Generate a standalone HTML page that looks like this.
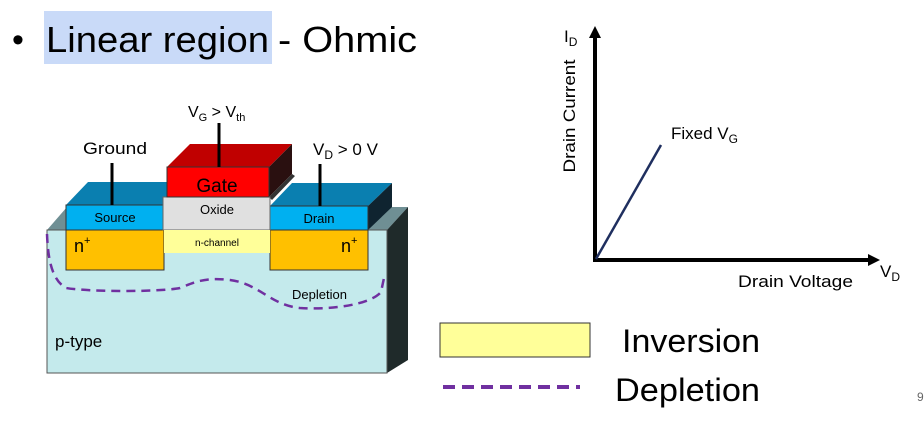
<!DOCTYPE html>
<html><head><meta charset="utf-8"><style>
body{margin:0;width:924px;height:416px;background:#fff;overflow:hidden;font-family:"Liberation Sans",Arial,sans-serif}
</style></head><body>
<svg width="924" height="416" xmlns="http://www.w3.org/2000/svg" font-family="Liberation Sans, Arial, sans-serif">
<rect x="44" y="11" width="228" height="53" fill="#c9daf8"/>
<text x="12" y="51" font-size="34" fill="#000">•</text>
<text x="46" y="52" font-size="36" fill="#000" textLength="223" lengthAdjust="spacingAndGlyphs">Linear region</text>
<text x="278" y="52" font-size="36" fill="#000" textLength="139" lengthAdjust="spacingAndGlyphs">- Ohmic</text>

<!-- substrate -->
<polygon points="47,230 67,207 408,207 387,230" fill="#6f8f94"/>
<polygon points="387,230 408,207 408,360 387,373" fill="#1f2a2a"/>
<rect x="47" y="230" width="340" height="143" fill="#c4eaec" stroke="#555" stroke-width="1"/>
<!-- source -->
<polygon points="66,205 88,182 175,182 164,205" fill="#0a7fb0"/>
<rect x="66" y="205" width="98" height="25" fill="#00b0f0" stroke="#333" stroke-width="1"/>
<text x="115" y="222" font-size="13" text-anchor="middle">Source</text>
<rect x="66" y="230" width="98" height="40" fill="#ffc000" stroke="#333" stroke-width="1"/>
<text x="74" y="252" font-size="18">n<tspan font-size="11" dy="-8">+</tspan></text>
<!-- drain -->
<polygon points="270,206 292,183 392,183 368,206" fill="#0a7fb0"/>
<polygon points="368,206 392,183 392,207 368,230" fill="#0f2430"/>
<rect x="270" y="206" width="98" height="24" fill="#00b0f0" stroke="#333" stroke-width="1"/>
<text x="319" y="223" font-size="13" text-anchor="middle">Drain</text>
<rect x="270" y="230" width="98" height="40" fill="#ffc000" stroke="#333" stroke-width="1"/>
<text x="341" y="252" font-size="18">n<tspan font-size="11" dy="-8">+</tspan></text>
<!-- oxide / channel -->
<polygon points="269,197 292,174 295,176 272,200" fill="#333"/>
<rect x="163" y="197" width="107" height="33" fill="#e0e0e0" stroke="#666" stroke-width="1"/>
<text x="217" y="214" font-size="13" text-anchor="middle">Oxide</text>
<rect x="164" y="230" width="106" height="23" fill="#ffff99"/>
<text x="217" y="246" font-size="10" text-anchor="middle">n-channel</text>
<!-- gate -->
<polygon points="167,167 190,144 292,144 269,167" fill="#c00000"/>
<polygon points="269,167 292,144 292,174 269,197" fill="#2a1010"/>
<rect x="167" y="167" width="102" height="30" fill="#ff0000" stroke="#333" stroke-width="1"/>
<text x="217" y="192" font-size="19" text-anchor="middle">Gate</text>
<!-- wires -->
<line x1="112" y1="163" x2="112" y2="205" stroke="#000" stroke-width="3"/>
<line x1="219" y1="123" x2="219" y2="167" stroke="#000" stroke-width="3"/>
<line x1="320" y1="164" x2="320" y2="206" stroke="#000" stroke-width="3"/>
<text x="83" y="154" font-size="17" textLength="64" lengthAdjust="spacingAndGlyphs">Ground</text>
<text x="188" y="117" font-size="16">V<tspan font-size="11" dy="4">G</tspan><tspan dy="-4"> &gt; V</tspan><tspan font-size="11" dy="4">th</tspan></text>
<text x="313" y="155" font-size="17">V<tspan font-size="12" dy="4">D</tspan><tspan dy="-4"> &gt; 0 V</tspan></text>
<!-- depletion -->
<path d="M47,234 C48,260 52,280 66,288 C90,292 160,292 180,288 C195,282 205,277 230,280 C260,284 270,305 300,308 C330,310 370,305 381,292 L384,278" fill="none" stroke="#7030a0" stroke-width="2.5" stroke-dasharray="9,6"/>
<text x="292" y="299" font-size="13">Depletion</text>
<text x="55" y="347" font-size="17">p-type</text>

<!-- graph -->
<line x1="595" y1="261" x2="595" y2="36" stroke="#000" stroke-width="4"/>
<polygon points="589,38 595,26 601,38" fill="#000"/>
<line x1="593" y1="260" x2="870" y2="260" stroke="#000" stroke-width="4"/>
<polygon points="868,254 880,260 868,266" fill="#000"/>
<line x1="596" y1="259" x2="661" y2="145" stroke="#1f2f5f" stroke-width="2.5"/>
<text x="671" y="139" font-size="17">Fixed V<tspan font-size="12" dy="4">G</tspan></text>
<text x="564" y="42" font-size="17">I<tspan font-size="12" dy="4">D</tspan></text>
<text transform="translate(575,116) rotate(-90)" font-size="17" text-anchor="middle" textLength="113" lengthAdjust="spacingAndGlyphs">Drain Current</text>
<text x="880" y="277" font-size="17">V<tspan font-size="12" dy="4">D</tspan></text>
<text x="738" y="287" font-size="17" textLength="115" lengthAdjust="spacingAndGlyphs">Drain Voltage</text>

<!-- legend -->
<rect x="440" y="323" width="150" height="34" fill="#ffff99" stroke="#333" stroke-width="1"/>
<text x="622" y="352" font-size="32" textLength="138" lengthAdjust="spacingAndGlyphs">Inversion</text>
<line x1="443" y1="387" x2="580" y2="387" stroke="#7030a0" stroke-width="4" stroke-dasharray="12,7"/>
<text x="615" y="401" font-size="32" textLength="145" lengthAdjust="spacingAndGlyphs">Depletion</text>
<text x="917" y="401" font-size="12" fill="#666">9</text>
</svg>
</body></html>
